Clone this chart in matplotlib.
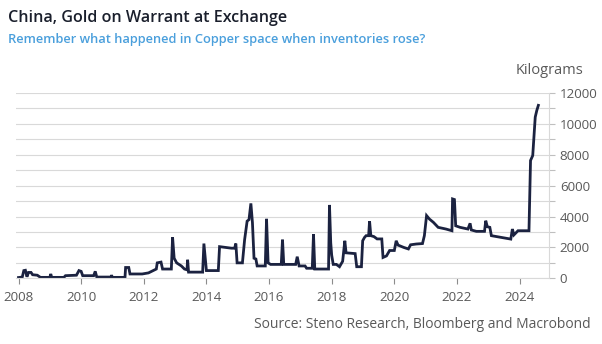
import matplotlib
matplotlib.use("Agg")
import matplotlib.pyplot as plt
from matplotlib.ticker import MultipleLocator, FixedLocator

# ---- data (decimal years, kilograms) ----
years = [2008.00, 2008.12, 2008.17, 2008.22, 2008.27, 2008.32, 2008.40, 2008.45, 2008.60, 2008.70,
         2009.00, 2009.03, 2009.06, 2009.45, 2009.50, 2009.85, 2009.93, 2010.00, 2010.05, 2010.40,
         2010.45, 2010.50, 2010.95, 2010.97, 2011.00, 2011.40, 2011.42, 2011.52, 2011.56, 2011.95,
         2012.15, 2012.30, 2012.40, 2012.43, 2012.55, 2012.60, 2012.88, 2012.92, 2012.97, 2013.05,
         2013.20, 2013.30, 2013.38, 2013.40, 2013.43, 2013.88, 2013.92, 2013.97, 2014.00, 2014.38,
         2014.42, 2014.80, 2014.90, 2014.94, 2014.98, 2015.15, 2015.22, 2015.30, 2015.36, 2015.42,
         2015.47, 2015.52, 2015.58, 2015.62, 2015.88, 2015.92, 2015.97, 2016.05, 2016.39, 2016.43,
         2016.47, 2016.85, 2016.90, 2016.96, 2017.15, 2017.20, 2017.38, 2017.42, 2017.46, 2017.90,
         2017.93, 2017.97, 2018.00, 2018.05, 2018.15, 2018.25, 2018.35, 2018.42, 2018.46, 2018.75,
         2018.80, 2018.95, 2018.99, 2019.05, 2019.10, 2019.18, 2019.21, 2019.25, 2019.35, 2019.45,
         2019.60, 2019.64, 2019.75, 2019.85, 2020.00, 2020.06, 2020.12, 2020.30, 2020.45, 2020.52,
         2020.70, 2020.90, 2020.96, 2021.03, 2021.12, 2021.25, 2021.40, 2021.65, 2021.84, 2021.86,
         2021.92, 2021.96, 2022.10, 2022.35, 2022.42, 2022.46, 2022.62, 2022.88, 2022.92, 2022.97,
         2023.05, 2023.10, 2023.40, 2023.55, 2023.72, 2023.77, 2023.82, 2023.95, 2024.30, 2024.35,
         2024.42, 2024.50, 2024.55, 2024.60]
values = [50, 80, 500, 520, 100, 380, 380, 230, 200, 60,
          60, 280, 60, 60, 170, 200, 500, 450, 170, 170,
          450, 80, 80, 200, 60, 60, 700, 700, 280, 280,
          350, 500, 600, 1000, 1050, 600, 600, 2650, 1300, 1000,
          800, 600, 550, 1200, 400, 400, 2250, 1200, 500, 500,
          2050, 1950, 1950, 2250, 1000, 1000, 2500, 3700, 3800, 4850,
          3600, 1300, 1250, 800, 800, 3850, 1000, 900, 900, 2500,
          900, 900, 1400, 800, 800, 650, 650, 2850, 600, 600,
          4750, 2300, 1500, 900, 900, 750, 1100, 2430, 1650, 1600,
          750, 750, 2430, 2650, 2760, 2760, 3700, 2760, 2700, 2550,
          2550, 1350, 1450, 1800, 1800, 2430, 2150, 2000, 1900, 2170,
          2220, 2250, 2760, 4060, 3840, 3620, 3300, 3190, 3080, 5140,
          5100, 3400, 3300, 3190, 3560, 3130, 3040, 3040, 3730, 3340,
          3300, 2760, 2650, 2600, 2540, 3190, 2810, 3080, 3080, 7630,
          7950, 10440, 10870, 11200]

x_ticks = [2008, 2010, 2012, 2014, 2016, 2018, 2020, 2022, 2024]
y_ticks = [0, 2000, 4000, 6000, 8000, 10000, 12000]

title = "China, Gold on Warrant at Exchange"
subtitle = "Remember what happened in Copper space when inventories rose?"
unit = "Kilograms"
source = "Source: Steno Research, Bloomberg and Macrobond"

plt.rcParams['font.family'] = ['Open Sans', 'DejaVu Sans']

W, H = 602, 344
fig = plt.figure(figsize=(W / 100, H / 100), dpi=100)
left, right, bottom, top = 16, 548.7, 278.3, 93
ax = fig.add_axes([left / W, 1 - bottom / H, (right - left) / W, (bottom - top) / H])

line_col = "#1b2240"
grid_col = "#d9d9d9"
text_grey = "#595959"

ax.plot(years, values, color=line_col, lw=2.0, solid_joinstyle="miter")
ax.set_xlim(2007.92, 2024.93)
ax.set_ylim(0, 12000)

ax.yaxis.tick_right()
ax.yaxis.set_major_locator(FixedLocator(y_ticks))
ax.yaxis.set_minor_locator(MultipleLocator(1000))
ax.xaxis.set_major_locator(FixedLocator(x_ticks))
ax.set_xticklabels([str(t) for t in x_ticks])
ax.set_yticklabels([str(t) for t in y_ticks])

for s in ["top", "left"]:
    ax.spines[s].set_visible(False)
ax.spines["right"].set_color(grid_col)
ax.spines["bottom"].set_color(grid_col)
ax.spines["right"].set_linewidth(0.8)
ax.spines["bottom"].set_linewidth(0.8)

ax.grid(axis="y", which="both", color=grid_col, lw=0.8)
ax.set_axisbelow(True)

ax.tick_params(axis="y", which="both", length=4, color="#bfbfbf", width=0.8,
               labelsize=9.6, labelcolor=text_grey, pad=4)
ax.tick_params(axis="x", which="major", length=4, color="#8c8c8c", width=0.8,
               labelsize=9.6, labelcolor=text_grey, pad=5)
ax.tick_params(axis="x", which="minor", length=0)

fig.text(8 / W, 1 - 18 / H, title, fontsize=11.6, fontweight="semibold",
         color="#1a1f2c", ha="left", va="center")
fig.text(8 / W, 1 - 40 / H, subtitle, fontsize=9.3, fontweight="semibold",
         color="#4a9fdc", ha="left", va="center")
fig.text(583 / W, 1 - 70 / H, unit, fontsize=10.5, color=text_grey,
         ha="right", va="center")
fig.text(591 / W, 1 - 325 / H, source, fontsize=10, color=text_grey,
         ha="right", va="center")

fig.savefig("out.png", dpi=100)
